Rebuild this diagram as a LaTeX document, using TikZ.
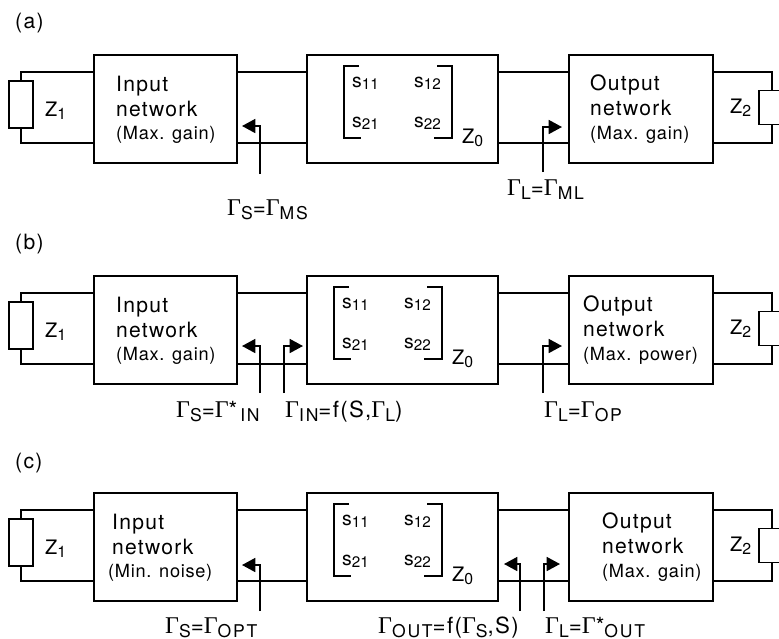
\documentclass[tikz,border=0pt]{standalone}
\usepackage{fontspec}
\setmainfont{TeX Gyre Heros}
\usetikzlibrary{arrows.meta}
\newfontfamily\gamfont{Liberation Serif}
\newcommand{\gam}{{\gamfont\fontsize{20.5}{22}\selectfont Γ}}
\newcommand{\lsub}[1]{\raisebox{-0.35ex}{\addfontfeature{LetterSpace=10}\fontsize{15}{16}\selectfont #1}}
\newcommand{\gsub}[1]{\gam\lsub{#1}}
\newcommand{\ssub}[1]{s{\fontsize{13}{14}\selectfont\raisebox{-0.3ex}{#1}}}
\newcommand{\zsub}[1]{Z\raisebox{-0.3ex}{\fontsize{13.5}{14}\selectfont #1}}
\tikzset{
  blk/.style={draw,line width=0.5mm,anchor=north west,inner sep=0pt},
  res/.style={draw,line width=0.5mm,fill=white,inner sep=0pt},
  wire/.style={line width=0.5mm},
  gar/.style={-{Triangle[length=4mm,width=4.2mm]},line width=0.5mm},
  big/.style={anchor=base west,inner sep=0pt,font=\addfontfeature{LetterSpace=6}\fontsize{18}{20}\selectfont},
  med/.style={anchor=base west,inner sep=0pt,font=\addfontfeature{LetterSpace=4}\fontsize{15.5}{18}\selectfont},
  sel/.style={anchor=base west,inner sep=0pt,font=\fontsize{16.5}{18}\selectfont},
  lab/.style={anchor=base west,inner sep=0pt,font=\addfontfeature{LetterSpace=6}\fontsize{19}{20}\selectfont}
}
\begin{document}
\begin{tikzpicture}[x=0.3mm,y=-0.3mm]
\clip (0,0) rectangle (779,638);
% one panel per row
\foreach \pn/\yy/\mx/\ix/\inx/\inote/\ox/\onx/\onote in {a/0/10/116/116/{(Max. gain)}/590/590/{(Max. gain)},
    b/221/0/116/116/{(Max. gain)}/583/583/{(Max. power)},
    c/438/0/112/108/{(Min. noise)}/602/602/{(Max. gain)}}{
\begin{scope}[shift={(0,\yy)}]
\node[blk,minimum width=143*0.3mm,minimum height=108*0.3mm] (inp\pn) at (93,54) {};
\node[blk,minimum width=191*0.3mm,minimum height=108*0.3mm] (mat\pn) at (306,54) {};
\node[blk,minimum width=144*0.3mm,minimum height=108*0.3mm] (out\pn) at (568,54) {};
\node[res,minimum width=24*0.3mm,minimum height=47*0.3mm] (rl\pn) at (21,104.5) {};
\node[res,minimum width=26*0.3mm,minimum height=34*0.3mm] (rr\pn) at (772,107.5) {};
\coordinate (it\pn) at (93,72);
\coordinate (ib\pn) at (93,143);
\coordinate (ot\pn) at (712,72);
\coordinate (ob\pn) at (712,143);
\draw[wire] (rl\pn.north) |- (it\pn);
\draw[wire] (rl\pn.south) |- (ib\pn);
\draw[wire] (rr\pn.north) |- (ot\pn);
\draw[wire] (rr\pn.south) |- (ob\pn);
\draw[wire] (inp\pn.east |- it\pn) -- (mat\pn.west |- it\pn);
\draw[wire] (inp\pn.east |- ib\pn) -- (mat\pn.west |- ib\pn);
\draw[wire] (mat\pn.east |- it\pn) -- (out\pn.west |- it\pn);
\draw[wire] (mat\pn.east |- ib\pn) -- (out\pn.west |- ib\pn);
% matrix brackets
\draw[wire] (349+\mx,66) -- (334+\mx,66) -- (334+\mx,138) -- (351+\mx,138);
\draw[wire] (427+\mx,66) -- (442+\mx,66) -- (442+\mx,138) -- (424+\mx,138);
\node[sel] (s11\pn) at (342+\mx,87) {\ssub{11}};
\node[sel] (s12\pn) at (404+\mx,87) {\ssub{12}};
\node[sel] (s21\pn) at (342+\mx,127) {\ssub{21}};
\node[sel] (s22\pn) at (404+\mx,127) {\ssub{22}};
\node[sel,font=\fontsize{17}{18}\selectfont] (z0\pn) at (452+\mx,143) {\zsub{0}};
\node[sel,font=\fontsize{17}{18}\selectfont] (z1\pn) at (45,116) {\zsub{1}};
\node[sel,font=\fontsize{17}{18}\selectfont] (z2\pn) at (730,113) {\zsub{2}};
\node[big] (it1\pn) at (\ix,91) {Input};
\node[big] (it2\pn) at (\ix,116) {network};
\node[med] (it3\pn) at (\inx,139) {\inote};
\node[big] (ot1\pn) at (\ox,90) {Output};
\node[big] (ot2\pn) at (\ox,115) {network};
\node[med] (ot3\pn) at (\onx,139) {\onote};
\end{scope}
}
\node[big] (pa) at (15,28) {(a)};
\node[big] (pb) at (15,249) {(b)};
\node[big] (pc) at (15,468) {(c)};
% reflection arrows
\foreach \an/\xa/\ya/\xb/\yb in {a1/260/174/242/126,a2/543/172/562/127,
    b1/260/393/242/346,b2/284/393/303/346,b3/543/393/562/346,
    c1/260/611/242/565,c2/520/611/504/564,c3/544/611/560/564}{
\coordinate (f\an) at (\xa,\ya);
\coordinate (t\an) at (\xb,\yb);
\draw[gar] (f\an) |- (t\an);
}
% reflection labels
\node[lab] (gla) at (227,215) {\gsub{S}=\gsub{MS}};
\node[lab] (glb) at (507,195) {\gsub{L}=\gsub{ML}};
\node[lab] (glc) at (176,417) {\gsub{S}=\gam*\lsub{\,IN}};
\node[lab] (gld) at (285,417) {\gsub{IN}=f(S,\gsub{L})};
\node[lab] (gle) at (544,417) {\gsub{L}=\gsub{OP}};
\node[lab] (glf) at (165,633) {\gsub{S}=\gsub{OPT}};
\node[lab] (glg) at (378,633) {\gsub{OUT}=f(\gsub{S},S)};
\node[lab] (glh) at (545,633) {\gsub{L}=\gam*\lsub{OUT}};
\end{tikzpicture}
\end{document}
